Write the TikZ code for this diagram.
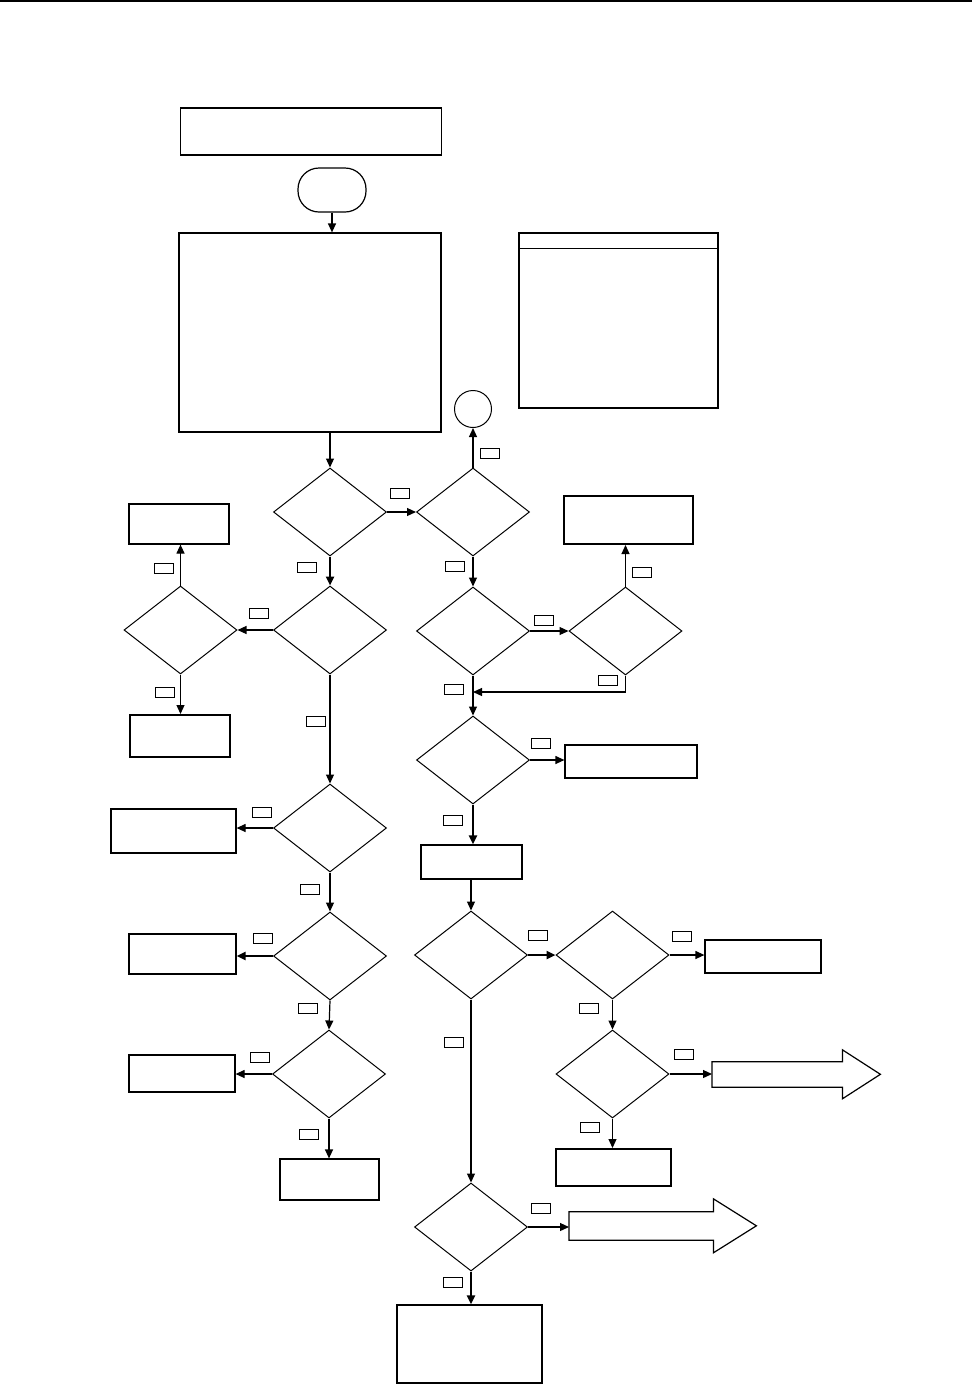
\documentclass[tikz,border=0pt]{standalone}
\usepackage{tikz}
\usetikzlibrary{shapes.geometric,arrows.meta}

\begin{document}
\begin{tikzpicture}[x=1pt,y=-1pt,
    box/.style={draw,line width=1.2pt,inner sep=0pt},
    heavybox/.style={box,line width=2pt},
    cond/.style={draw,diamond,line width=1pt,inner sep=0pt,minimum width=113pt,minimum height=88pt},
    tag/.style={draw,line width=0.8pt,inner sep=0pt,minimum width=19pt,minimum height=10pt},
    flow/.style={line width=1.2pt,-{Triangle[length=9pt,width=8pt]}},
    boldflow/.style={line width=2.6pt,-{Triangle[length=9pt,width=8pt]}}]
        \useasboundingbox (0,0) rectangle (972,1390);
        \draw[line width=1.2pt] (0,1)--(972,1);
        % top of the chart
        \node[box,minimum width=261pt,minimum height=47pt] (title) at (311,131.5) {};
        \node[box,rounded corners=21pt,minimum width=68pt,minimum height=44pt] (start) at (332,190) {};
        \node[box,minimum width=262pt,minimum height=199pt] (init) at (310,332.5) {};
        \node[box,minimum width=199pt,minimum height=175pt] (legend) at (618.5,320.5) {};
        \draw[line width=1.2pt] ([xshift=2pt,yshift=-16pt]legend.north west)--([xshift=-1pt,yshift=-16pt]legend.north east);
        \node[draw,circle,line width=1pt,minimum size=37pt,inner sep=0pt] (conn) at (473,409) {};
        % decisions
        \node[cond] (d1) at (330,512) {};
        \node[cond] (d2) at (473,512) {};
        \node[cond] (d3) at (473,631) {};
        \node[cond] (d4) at (625.5,631) {};
        \node[cond] (d5) at (473,760) {};
        \node[cond] (d6) at (471,955) {};
        \node[cond] (d7) at (612.5,955) {};
        \node[cond] (d8) at (612.5,1074) {};
        \node[cond] (d9) at (471,1227) {};
        \node[cond] (d10) at (330,630) {};
        \node[cond] (d11) at (180.5,630) {};
        \node[cond] (d12) at (330,828) {};
        \node[cond] (d13) at (330,956) {};
        \node[cond] (d14) at (329,1074) {};
        % actions
        \node[box,minimum width=100pt,minimum height=40pt] (l1) at (179,524) {};
        \node[heavybox,minimum width=100pt,minimum height=42pt] (l2) at (180,736) {};
        \node[box,minimum width=125pt,minimum height=44pt] (l3) at (173.5,831) {};
        \node[box,minimum width=107pt,minimum height=40pt] (l4) at (182.5,954) {};
        \node[box,minimum width=106pt,minimum height=37pt] (l5) at (182,1073.5) {};
        \node[box,minimum width=99pt,minimum height=41pt] (l6) at (329.5,1179.5) {};
        \node[heavybox,minimum width=129pt,minimum height=48pt] (r1) at (628.5,520) {};
        \node[box,minimum width=132pt,minimum height=33pt] (r2) at (631,761.5) {};
        \node[box,minimum width=101pt,minimum height=34pt] (c1) at (471.5,862) {};
        \node[box,minimum width=116pt,minimum height=33pt] (r3) at (763,956.5) {};
        \node[heavybox,minimum width=115pt,minimum height=37pt] (r4) at (613.5,1167.5) {};
        \node[box,minimum width=145pt,minimum height=78pt] (fin) at (469.5,1344) {};
        % exit arrows
        \node[inner sep=0pt,minimum width=130pt,minimum height=25pt,anchor=west] (out1) at (712,1074.5) {};
        \draw[line width=1.2pt] (out1.south east)--(out1.south west)--(out1.north west)--(out1.north east)
            --++(0,-12)--++(38,24.5)--++(-38,24.5)--cycle;
        \node[inner sep=0pt,minimum width=144pt,minimum height=28pt,anchor=west] (out2) at (569,1226) {};
        \draw[line width=1.2pt] (out2.south east)--(out2.south west)--(out2.north west)--(out2.north east)
            --++(0,-13)--++(43,27)--++(-43,27)--cycle;
        \coordinate (join) at (473,692);
        % connectors
        \draw[flow] (start.south)--(start.south |- init.north);
        \draw[flow] (d1.north |- init.south)--(d1.north);
        \draw[flow] (d1.east)--(d2.west);
        \draw[flow] (d2.north)--(conn.south);
        \draw[flow] (d2.south)--(d3.north);
        \draw[flow] (d3.east)--(d4.west);
        \draw[flow] (d4.north)--(d4.north |- r1.south);
        \draw[flow] (d4.south)|-(join);
        \draw[flow] (d3.south)--(d5.north);
        \draw[flow] (d5.east)--(d5.east -| r2.west);
        \draw[boldflow] (d5.south)--(d5.south |- c1.north);
        \draw[flow] (d6.north |- c1.south)--(d6.north);
        \draw[boldflow] (d6.east)--(d7.west);
        \draw[flow] (d7.east)--(d7.east -| r3.west);
        \draw[flow] (d7.south)--(d8.north);
        \draw[flow] (d8.east)--(d8.east -| out1.west);
        \draw[flow] (d8.south)--(d8.south |- r4.north);
        \draw[flow] (d6.south)--(d9.north);
        \draw[flow] (d9.east)--(d9.east -| out2.west);
        \draw[boldflow] (d9.south)--(d9.south |- fin.north);
        \draw[boldflow] (d1.south)--(d10.north);
        \draw[flow] (d10.west)--(d11.east);
        \draw[flow] (d11.north)--(d11.north |- l1.south);
        \draw[flow] (d11.south)--(d11.south |- l2.north);
        \draw[flow] (d10.south)--(d12.north);
        \draw[flow] (d12.west)--(d12.west -| l3.east);
        \draw[flow] (d12.south)--(d13.north);
        \draw[boldflow] (d13.west)--(d13.west -| l4.east);
        \draw[flow] (d13.south)--(d14.north);
        \draw[flow] (d14.west)--(d14.west -| l5.east);
        \draw[flow] (d14.south)--(d14.south |- l6.north);
        % branch tags
        \node[tag] (t1) at (399.5,493) {};
        \node[tag] (t2) at (490,453) {};
        \node[tag] (t3) at (455,566) {};
        \node[tag] (t4) at (544,620) {};
        \node[tag] (t5) at (641.5,572) {};
        \node[tag] (t6) at (608,680) {};
        \node[tag] (t7) at (453.5,689) {};
        \node[tag] (t8) at (540.5,743) {};
        \node[tag] (t9) at (452.5,820) {};
        \node[tag] (t10) at (537.5,935) {};
        \node[tag] (t11) at (681.5,936) {};
        \node[tag] (t12) at (588.5,1008) {};
        \node[tag] (t13) at (683.5,1054) {};
        \node[tag] (t14) at (589.5,1127) {};
        \node[tag] (t15) at (453.5,1042) {};
        \node[tag] (t16) at (540.5,1208) {};
        \node[tag] (t17) at (452.5,1282) {};
        \node[tag] (t18) at (306.5,567) {};
        \node[tag] (t19) at (258.5,613) {};
        \node[tag] (t20) at (163.5,568) {};
        \node[tag] (t21) at (164.5,692) {};
        \node[tag] (t22) at (316,721) {};
        \node[tag] (t23) at (261.5,812) {};
        \node[tag] (t24) at (310,889) {};
        \node[tag] (t25) at (262.5,938) {};
        \node[tag] (t26) at (308,1008) {};
        \node[tag] (t27) at (259.5,1057) {};
        \node[tag] (t28) at (308.5,1134) {};
    \end{tikzpicture}
\end{document}
